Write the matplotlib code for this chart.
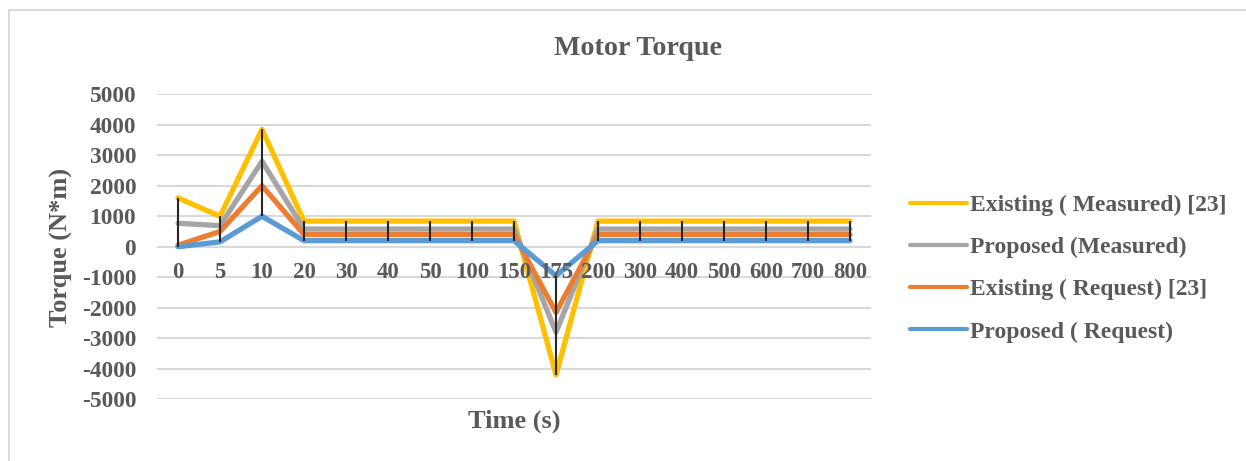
import numpy as np
import matplotlib
matplotlib.use("Agg")
import matplotlib.pyplot as plt
from matplotlib.lines import Line2D

# ── data ─────────────────────────────────────────────────────────────────────
time_labels = ["0", "5", "10", "20", "30", "40", "50", "100", "150", "175",
               "200", "300", "400", "500", "600", "700", "800"]

existing_measured = [1600, 1000, 3850, 840, 840, 840, 840, 840, 840, -4200,
                     840, 840, 840, 840, 840, 840, 840]
proposed_measured = [770, 690, 2800, 580, 580, 580, 580, 580, 580, -2800,
                     580, 580, 580, 580, 580, 580, 580]
existing_request = [50, 500, 2000, 400, 400, 400, 400, 400, 400, -2150,
                    400, 400, 400, 400, 400, 400, 400]
proposed_request = [0, 160, 1000, 200, 200, 200, 200, 200, 200, -950,
                    200, 200, 200, 200, 200, 200, 200]

series_names = ["Existing ( Measured) [23]", "Proposed (Measured)",
                "Existing ( Request) [23]", "Proposed ( Request)"]
series_colors = ["#FFC000", "#A5A5A5", "#ED7D31", "#5B9BD5"]

y_ticks = [5000, 4000, 3000, 2000, 1000, 0, -1000, -2000, -3000, -4000, -5000]

TXT = "#595959"
GRID = "#D9D9D9"
plt.rcParams["font.family"] = ["Liberation Serif", "DejaVu Serif"]
plt.rcParams["font.weight"] = "bold"

W, H = 1246, 461
fig = plt.figure(figsize=(W / 100, H / 100), dpi=100)
fig.patch.set_facecolor("white")

# plot area in pixel terms of the reference
left, right, top, bottom = 157, 871, 94.2, 399.3
ax = fig.add_axes([left / W, 1 - bottom / H, (right - left) / W, (bottom - top) / H])

x = np.arange(len(time_labels))
all_series = [existing_measured, proposed_measured, existing_request, proposed_request]

for ys in y_ticks:
    ax.axhline(ys, color=GRID, lw=1.5, zorder=0.5)

handles = []
for vals, name, col in zip(all_series, series_names, series_colors):
    ln, = ax.plot(x, vals, color=col, lw=3.8, label=name, zorder=2,
                  solid_capstyle="round", solid_joinstyle="round")
    handles.append(ln)

# high-low lines across the series at each category
stack = np.array(all_series)
ax.vlines(x, stack.min(axis=0), stack.max(axis=0), color="#262626", lw=1.5, zorder=3)

ax.set_xlim(-0.5, len(time_labels) - 0.5)
ax.set_ylim(-5000, 5000)
ax.set_xticks(x)
ax.set_xticklabels(time_labels)
ax.set_yticks(y_ticks)
ax.set_yticklabels([str(v) for v in y_ticks])
ax.set_axisbelow(False)
for s in ax.spines.values():
    s.set_visible(False)
ax.spines["bottom"].set_position(("data", 0))
ax.tick_params(axis="x", length=0, pad=11, labelsize=16.5, labelcolor=TXT)
ax.tick_params(axis="y", length=0, pad=15, labelsize=16.8, labelcolor=TXT)
for lab in ax.get_xticklabels() + ax.get_yticklabels():
    lab.set_fontweight("bold")
ax.patch.set_alpha(0)

fig.text(637.5 / W, 1 - 55 / H, "Motor Torque", ha="center", va="baseline",
         fontsize=20.2, fontweight="bold", color=TXT)
fig.text(514 / W, 1 - 428 / H, "Time (s)", ha="center", va="baseline",
         fontsize=19, fontweight="bold", color=TXT)
fig.text(61 / W, 1 - 247.5 / H, "Torque (N*m)", ha="center", va="center",
         rotation=90, fontsize=19, fontweight="bold", color=TXT)

leg = fig.legend(handles=handles, loc="center left",
                 bbox_to_anchor=(910 / W, 1 - 268.5 / H),
                 frameon=False, fontsize=17, handlelength=2.4,
                 handletextpad=0.15, labelspacing=0.88,
                 borderpad=0, borderaxespad=0)
for t in leg.get_texts():
    t.set_color(TXT)
    t.set_fontweight("bold")
for lh in leg.get_lines():
    lh.set_linewidth(3.0)

# outer chart border (cropped on right and bottom in the reference)
fig.add_artist(Line2D([9 / W, 9 / W], [0, 1 - 10 / H], color=GRID, lw=1.5))
fig.add_artist(Line2D([9 / W, 1], [1 - 10 / H, 1 - 10 / H], color=GRID, lw=1.5))

fig.savefig("out.png", dpi=100)
